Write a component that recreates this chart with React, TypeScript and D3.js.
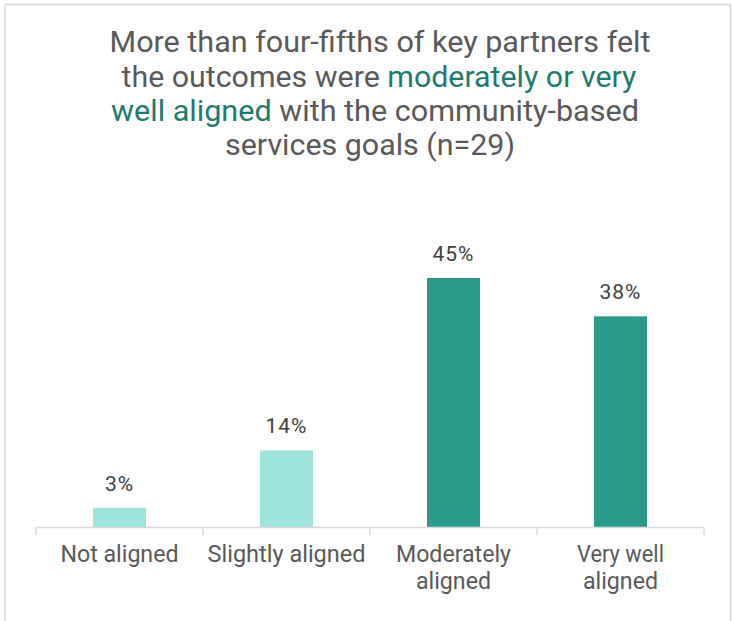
import React from "react";
import * as d3 from "d3";

const categories = ["Not aligned", "Slightly aligned", "Moderately aligned", "Very well aligned"];
const categoryLines = [["Not aligned"], ["Slightly aligned"], ["Moderately", "aligned"], ["Very well", "aligned"]];
const values = [3.45, 13.79, 44.83, 37.93];
const valueLabels = ["3%", "14%", "45%", "38%"];
const barColors = ["#9de3dc", "#9de3dc", "#2a9b8b", "#2a9b8b"];

const W = 732;
const H = 621;
const FONT = "'Roboto', sans-serif";

// layout: measured label widths in px (fitted via textLength)
const TITLE_WIDTHS = [541, 515, 528, 290];
const CAT_WIDTHS: Record<string, number> = {
  "Not aligned": 118,
  "Slightly aligned": 158,
  Moderately: 115,
  aligned: 75,
  "Very well": 87,
};

export default function App() {
  const x = d3.scaleBand<string>().domain(categories).range([36, 704]).paddingInner(0).paddingOuter(0);
  const y = d3.scaleLinear().domain([0, 44.83]).range([527, 278]);
  const bw = 53;
  const ticks = [...categories.map((c) => x(c) as number), 704];
  const tx = 380;

  return (
    <div style={{ position: "absolute", left: 0, top: 0 }}>
      <svg width={W} height={H} style={{ display: "block" }}>
        <rect x={0} y={0} width={W} height={H} fill="#fff" />
        <path d={`M5,${H} V4.5 H730.5 V${H}`} fill="none" stroke="#d9d9d9" strokeWidth={1.5} />
        <g fontFamily={FONT} fontSize={29} fill="#595959" textAnchor="middle">
          <text x={tx} y={52} textLength={TITLE_WIDTHS[0]} lengthAdjust="spacingAndGlyphs">
            More than four-fifths of key partners felt
          </text>
          <text x={tx - 1} y={87} textLength={TITLE_WIDTHS[1]} lengthAdjust="spacingAndGlyphs">
            the outcomes were <tspan fill="#1d7a6c">moderately or very</tspan>
          </text>
          <text x={tx - 5} y={121} textLength={TITLE_WIDTHS[2]} lengthAdjust="spacingAndGlyphs">
            <tspan fill="#1d7a6c">well aligned</tspan> with the community-based
          </text>
          <text x={tx - 10} y={155} textLength={TITLE_WIDTHS[3]} lengthAdjust="spacingAndGlyphs">
            services goals (n=29)
          </text>
        </g>
        {categories.map((c, i) => {
          const cx = (x(c) as number) + x.bandwidth() / 2;
          return (
            <g key={c}>
              <rect x={cx - bw / 2} y={y(values[i])} width={bw} height={y(0) - y(values[i])} fill={barColors[i]} />
              <text
                x={cx}
                y={y(values[i]) - 17}
                textAnchor="middle"
                fontFamily={FONT}
                fontSize={21}
                letterSpacing={1}
                fill="#404040"
              >
                {valueLabels[i]}
              </text>
              {categoryLines[i].map((ln, j) => (
                <text
                  key={j}
                  x={cx}
                  y={562 + j * 27}
                  textAnchor="middle"
                  fontFamily={FONT}
                  fontSize={23}
                  fill="#595959"
                  textLength={CAT_WIDTHS[ln]}
                  lengthAdjust="spacingAndGlyphs"
                >
                  {ln}
                </text>
              ))}
            </g>
          );
        })}
        <line x1={36} x2={704} y1={527.5} y2={527.5} stroke="#d9d9d9" strokeWidth={1.5} />
        {ticks.map((t, i) => (
          <line key={i} x1={t} x2={t} y1={527} y2={535} stroke="#d9d9d9" strokeWidth={1.5} />
        ))}
      </svg>
    </div>
  );
}
